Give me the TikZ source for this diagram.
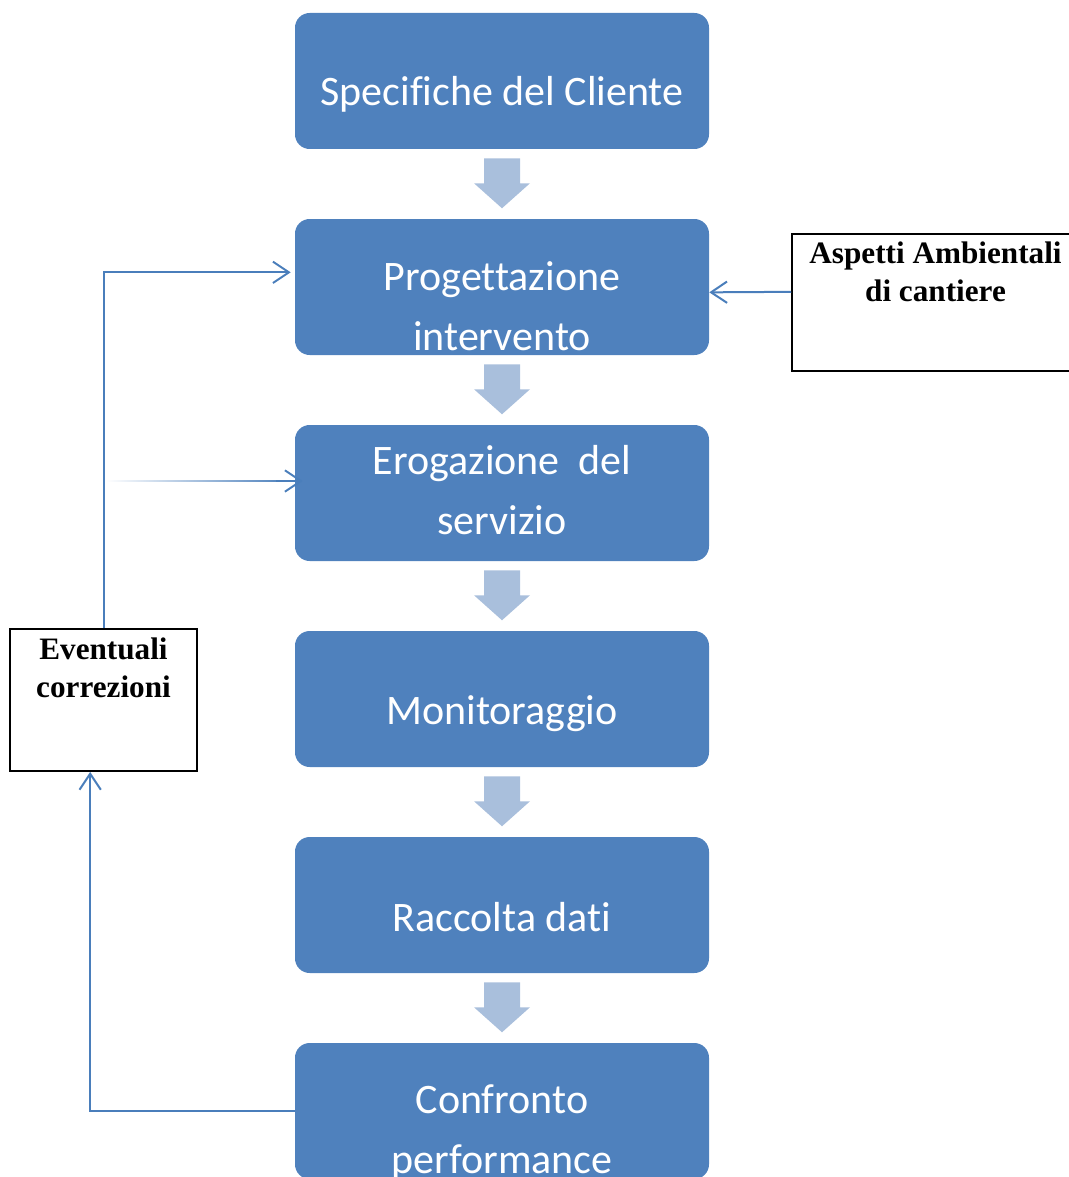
\documentclass[tikz,border=0pt]{standalone}
\usepackage{fontspec}
\setmainfont{Liberation Serif}
\newfontfamily\calibri[Ligatures=NoCommon]{Carlito}
\usetikzlibrary{arrows.meta,fadings}

\definecolor{boxblue}{HTML}{4F81BD}
\definecolor{arrowblue}{HTML}{A9BFDC}
\definecolor{lineblue}{HTML}{4A7EBB}

\tikzstyle{stepbox}=[rectangle, rounded corners=11pt, fill=boxblue, minimum width=310.5pt, minimum height=102pt, inner sep=0pt]
\tikzstyle{steptext}=[text=white, font=\calibri\fontsize{31.5}{45}\selectfont, align=center]
\tikzstyle{notebox}=[rectangle, draw=black, line width=1.4pt, inner sep=0pt]
\tikzstyle{notetext}=[font=\bfseries\fontsize{23.4}{28.5}\selectfont, align=center]
\tikzstyle{feedline}=[lineblue, line width=1.5pt, -{Straight Barb[length=12pt,width=16pt]}]
\tikzstyle{blockarrow}=[fill=arrowblue]

\begin{document}
\begin{tikzpicture}[x=0.75pt, y=-0.75pt]

	\useasboundingbox (0,0) rectangle (1069,1177);
	\clip (0,0) rectangle (1069,1177);

	% Schritte
	\node(spec) at (502,81) [stepbox] {};
	\node(prog) at (502,287) [stepbox] {};
	\node(erog) at (502,493) [stepbox] {};
	\node(moni) at (502,699) [stepbox] {};
	\node(racc) at (502,905) [stepbox] {};
	\node(conf) at (502,1111) [stepbox] {};

	\node(specText) at (502,94) [steptext] {Specifiche del Cliente};
	\node(progText) at (502,306) [steptext] {Progettazione\\intervento};
	\node(erogText) at (502,490) [steptext] {Erogazione~~del\\servizio};
	\node(moniText) at (502,714) [steptext] {Monitoraggio};
	\node(raccText) at (502,917) [steptext] {Raccolta dati};
	\node(confText) at (502,1132) [steptext] {Confronto\\performance};

	\foreach \a in {spec,prog,erog,moni,racc}
		{
			\fill[blockarrow] (\a.south) ++(-18,9) -- ++(36,0) -- ++(0,25) -- ++(10,0)
				-- ++(-28,25) -- ++(-28,-25) -- ++(10,0) -- cycle;
		}

	% Kästen
	\node(amb) at (933.5,302.5) [notebox, minimum width=212pt, minimum height=103pt] {};
	\node(ambText) at (935.5,272) [notetext] {Aspetti Ambientali\\di cantiere};
	\node(corr) at (103.5,700) [notebox, minimum width=140pt, minimum height=106.5pt] {};
	\node(corrText) at (103.5,668) [notetext] {Eventuali\\correzioni};

	% Rückführung
	\coordinate(fadeStart) at (107,481);
	\coordinate(fadeEnd) at ([yshift=9pt, xshift=6pt]erog.west);
	\draw[feedline] ([yshift=8pt]amb.west) -- ([yshift=-4pt]prog.east);
	\draw[feedline] (corr.north) |- ([yshift=11pt, xshift=-3pt]prog.west);
	\draw[feedline, -, path fading=west] (fadeStart) -- ([xshift=-10pt]fadeEnd);
	\draw[feedline] ([xshift=-20pt]fadeEnd) -- (fadeEnd);
	\draw[feedline] (conf.west) -| ([xshift=-10pt]corr.south);

\end{tikzpicture}
\end{document}
